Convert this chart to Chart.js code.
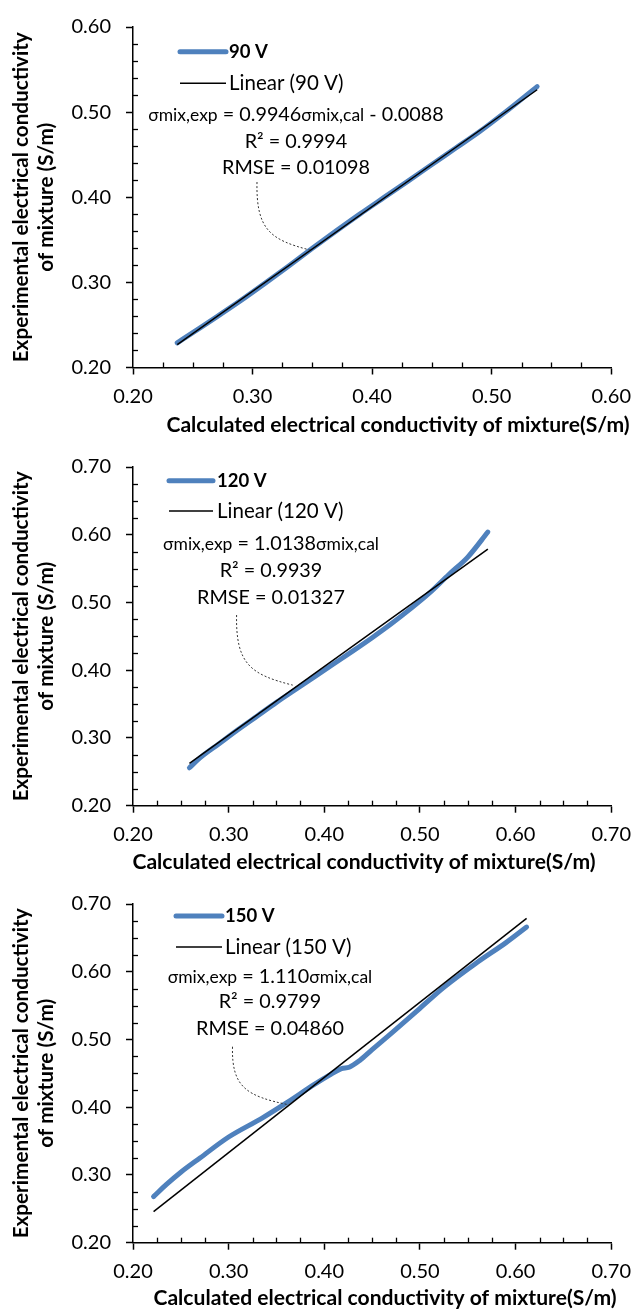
<!DOCTYPE html>
<html><head><meta charset="utf-8">
<script src="https://cdn.jsdelivr.net/npm/chart.js@4/dist/chart.umd.min.js"></script>
<style>
html,body{margin:0;padding:0;background:#fff;width:641px;height:1313px;overflow:hidden;}
.wrap{position:absolute;left:0;width:641px;}
</style></head><body>
<div class="wrap" style="top:0;height:440px"><canvas id="c1"></canvas></div>
<div class="wrap" style="top:440px;height:437px"><canvas id="c2"></canvas></div>
<div class="wrap" style="top:877px;height:436px"><canvas id="c3"></canvas></div>
<script>
// ---------- data ----------
const seriesNames = ['90 V', '120 V', '150 V'];
const trendNames = ['Linear (90 V)', 'Linear (120 V)', 'Linear (150 V)'];
const eqSlopes = ['0.9946', '1.0138', '1.110'];
const eqIntercepts = [' - 0.0088', '', ''];
const r2Values = ['0.9994', '0.9939', '0.9799'];
const rmseValues = ['0.01098', '0.01327', '0.04860'];

const calc90 = [0.237, 0.25, 0.27, 0.29, 0.31, 0.33, 0.35, 0.37, 0.39, 0.41, 0.43, 0.45, 0.47, 0.49, 0.51, 0.538];
const exp90  = [0.229, 0.241, 0.2595, 0.2785, 0.2985, 0.319, 0.340, 0.3605, 0.3805, 0.3998, 0.419, 0.4385, 0.4578, 0.4772, 0.4985, 0.530];
const trendX90 = [0.237, 0.538];
const trendY90 = [0.2269, 0.5263];

const calc120 = [0.259, 0.27, 0.29, 0.31, 0.33, 0.35, 0.37, 0.39, 0.41, 0.43, 0.45, 0.47, 0.49, 0.51, 0.53, 0.55, 0.571];
const exp120  = [0.256, 0.2705, 0.2915, 0.3125, 0.3325, 0.3525, 0.3715, 0.3905, 0.4095, 0.4285, 0.448, 0.4685, 0.4905, 0.514, 0.541, 0.567, 0.604];
const trendX120 = [0.259, 0.571];
const trendY120 = [0.2626, 0.5789];

const calc150 = [0.2215, 0.235, 0.25, 0.27, 0.30, 0.335, 0.36, 0.39, 0.405, 0.418, 0.426, 0.437, 0.45, 0.47, 0.50, 0.525, 0.56, 0.59, 0.6115];
const exp150  = [0.268, 0.286, 0.304, 0.325, 0.356, 0.384, 0.406, 0.434, 0.447, 0.457, 0.459, 0.469, 0.485, 0.509, 0.546, 0.577, 0.614, 0.643, 0.666];
const trendX150 = [0.2215, 0.6115];
const trendY150 = [0.2459, 0.6788];

const axisRanges = [[0.2, 0.6, 0.2, 0.6], [0.2, 0.7, 0.2, 0.7], [0.2, 0.7, 0.2, 0.7]]; // xmin,xmax,ymin,ymax
const xTitle = 'Calculated electrical conductivity of mixture(S/m)';
const yTitle = ['Experimental electrical conductivity', 'of mixture (S/m)'];

// ---------- styles ----------
const F = { tick: 20, main: 19.8, legN: 20.5, legB: 18.5, small: 17.5, xT: 21.1, yT: 20.7 };
const FAM = 'Lato, Carlito, Calibri, sans-serif';
const BLUE = '#4F81BD';

const layouts = [
  {padTop: 20, padRight: 22, xH: 72.5, yMinor: 0.02, xMinor: 0.025,
   leg: {x0: 180, x1: 226, y1: 51.7, y2: 83.3, tx: 229}, eq: {cx: 296, y: [115, 141.7, 168]},
   lead: {sx: 257, sy: 182, ex: 0.348, ey: 0.338}, xTitle: {cx: 398, y: 425}},
  {padTop: 16, padRight: 22, xH: 71.3, yMinor: 0.025, xMinor: 0.025,
   leg: {x0: 169, x1: 213, y1: 40.7, y2: 71, tx: 217}, eq: {cx: 271, y: [104, 131, 157.7]},
   lead: {sx: 236.6, sy: 175, ex: 0.367, ey: 0.378}, xTitle: {cx: 364, y: 421.7}},
  {padTop: 16.3, padRight: 22, xH: 70.3, yMinor: 0.025, xMinor: 0.025,
   leg: {x0: 176, x1: 222, y1: 39, y2: 70, tx: 225}, eq: {cx: 270, y: [99.7, 124.7, 151.3]},
   lead: {sx: 232.5, sy: 169.7, ex: 0.363, ey: 0.4035}, xTitle: {cx: 385, y: 421.3}}
];

function makePlugin(i){
  const L = layouts[i];
  return {
    id: 'deco' + i,
    afterDraw(chart){
      const ctx = chart.ctx, xs = chart.scales.x, ys = chart.scales.y;
      const [xmin, xmax, ymin, ymax] = axisRanges[i];
      ctx.save();
      // minor ticks (inside)
      ctx.strokeStyle = '#000'; ctx.lineWidth = 1.3;
      const ax = xs.getPixelForValue(xmin), ay = ys.getPixelForValue(ymin);
      for (let k = 1; ; k++) {
        const v = xmin + k * L.xMinor; if (v > xmax + 1e-9) break;
        if (Math.abs((v * 10) - Math.round(v * 10)) < 1e-6) continue;
        const p = Math.round(xs.getPixelForValue(v)) + 0.5;
        ctx.beginPath(); ctx.moveTo(p, ay); ctx.lineTo(p, ay - 5); ctx.stroke();
      }
      for (let k = 1; ; k++) {
        const v = ymin + k * L.yMinor; if (v > ymax + 1e-9) break;
        if (Math.abs((v * 10) - Math.round(v * 10)) < 1e-6) continue;
        const p = Math.round(ys.getPixelForValue(v)) + 0.5;
        ctx.beginPath(); ctx.moveTo(ax, p); ctx.lineTo(ax + 5, p); ctx.stroke();
      }
      // legend
      ctx.lineCap = 'round';
      ctx.strokeStyle = BLUE; ctx.lineWidth = 5;
      ctx.beginPath(); ctx.moveTo(L.leg.x0, L.leg.y1); ctx.lineTo(L.leg.x1, L.leg.y1); ctx.stroke();
      ctx.lineCap = 'butt';
      ctx.strokeStyle = '#000'; ctx.lineWidth = 1.5;
      ctx.beginPath(); ctx.moveTo(L.leg.x0, L.leg.y2); ctx.lineTo(L.leg.x1, L.leg.y2); ctx.stroke();
      ctx.fillStyle = '#000'; ctx.textBaseline = 'middle'; ctx.textAlign = 'left';
      ctx.font = `bold ${F.legB}px ${FAM}`; ctx.fillText(seriesNames[i], L.leg.tx, L.leg.y1);
      ctx.font = `${F.legN}px ${FAM}`; ctx.fillText(trendNames[i], L.leg.tx, L.leg.y2);
      // trendline equation, R², RMSE
      const segs = [['σmix,exp', F.small], [' = ' + eqSlopes[i], F.main], ['σmix,cal', F.small], [eqIntercepts[i], F.main]];
      let tot = 0;
      segs.forEach(s => { ctx.font = `${s[1]}px ${FAM}`; tot += ctx.measureText(s[0]).width; });
      let x = L.eq.cx - tot / 2;
      ctx.textBaseline = 'alphabetic';
      const base = L.eq.y[0] + 6;
      segs.forEach(s => { ctx.font = `${s[1]}px ${FAM}`; ctx.fillText(s[0], x, base); x += ctx.measureText(s[0]).width; });
      ctx.textAlign = 'center'; ctx.textBaseline = 'middle';
      ctx.font = `${F.main}px ${FAM}`;
      ctx.fillText('R² = ' + r2Values[i], L.eq.cx, L.eq.y[1]);
      ctx.fillText('RMSE = ' + rmseValues[i], L.eq.cx, L.eq.y[2]);
      // dashed leader line to the curve
      const ex = xs.getPixelForValue(L.lead.ex), ey = ys.getPixelForValue(L.lead.ey);
      const dx = ex - L.lead.sx, dy = ey - L.lead.sy;
      ctx.setLineDash([2, 2]); ctx.lineWidth = 1; ctx.strokeStyle = '#333';
      ctx.beginPath(); ctx.moveTo(L.lead.sx, L.lead.sy);
      ctx.bezierCurveTo(L.lead.sx - 1, L.lead.sy + 0.7 * dy, L.lead.sx + 0.25 * dx, ey - 0.15 * dy, ex, ey);
      ctx.stroke(); ctx.setLineDash([]);
      // x axis title
      ctx.font = `bold ${F.xT}px ${FAM}`; ctx.fillStyle = '#000';
      ctx.fillText(xTitle, L.xTitle.cx, L.xTitle.y);
      ctx.restore();
    }
  };
}

const allCalc = [calc90, calc120, calc150], allExp = [exp90, exp120, exp150];
const allTX = [trendX90, trendX120, trendX150], allTY = [trendY90, trendY120, trendY150];

function build(i){
  const L = layouts[i];
  const [xmin, xmax, ymin, ymax] = axisRanges[i];
  new Chart(document.getElementById('c' + (i + 1)), {
    type: 'scatter',
    data: { datasets: [
      { label: trendNames[i], data: allTX[i].map((x, k) => ({x, y: allTY[i][k]})), showLine: true,
        borderColor: '#000', borderWidth: 1.5, pointRadius: 0, order: 0 },
      { label: seriesNames[i], data: allCalc[i].map((x, k) => ({x, y: allExp[i][k]})), showLine: true,
        borderColor: BLUE, borderWidth: 5, pointRadius: 0, tension: 0.4, cubicInterpolationMode: 'monotone',
        borderCapStyle: 'round', borderJoinStyle: 'round', order: 1 }
    ]},
    options: {
      responsive: true, maintainAspectRatio: false, animation: false,
      layout: { padding: { top: L.padTop, right: L.padRight, left: 0, bottom: 0 } },
      plugins: { legend: { display: false }, tooltip: { enabled: false } },
      scales: {
        x: { type: 'linear', min: xmin, max: xmax,
          afterFit: s => { s.height = L.xH; },
          ticks: { stepSize: 0.1, padding: 10, color: '#000', font: { family: FAM, size: F.tick }, callback: v => v.toFixed(2) },
          grid: { drawOnChartArea: false, drawTicks: true, tickLength: 7, tickColor: '#000', tickWidth: 1.5 },
          border: { color: '#000', width: 1.5 } },
        y: { type: 'linear', min: ymin, max: ymax,
          afterFit: s => { s.width = 133; },
          ticks: { stepSize: 0.1, padding: 15, color: '#000', font: { family: FAM, size: F.tick }, callback: v => v.toFixed(2) },
          grid: { drawOnChartArea: false, drawTicks: true, tickLength: 7, tickColor: '#000', tickWidth: 1.5 },
          border: { color: '#000', width: 1.5 },
          title: { display: true, text: yTitle, color: '#000', padding: { top: 8.5, bottom: 0 },
            font: { family: FAM, weight: 'bold', size: F.yT, lineHeight: '25px' } } }
      }
    },
    plugins: [makePlugin(i)]
  });
}
[0, 1, 2].forEach(build);
</script>
</body></html>
